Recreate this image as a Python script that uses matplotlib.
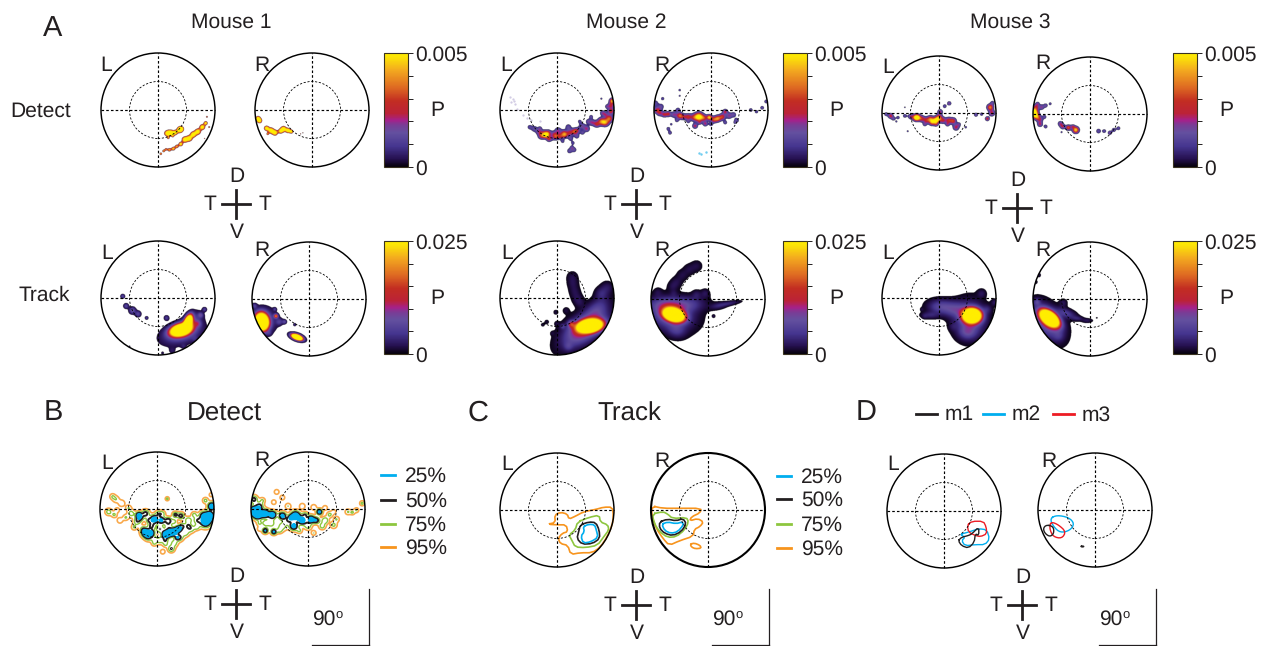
"""
Retinal maps for Detect and Track epochs, three mice, plus contour summaries.
Blob lists are (x, y, s, amp) or (x, y, sx, sy, angle, amp) on the unit disc.
"""
import numpy as np
import matplotlib
matplotlib.use("Agg")
import matplotlib.pyplot as plt
from matplotlib.cm import ScalarMappable
from matplotlib.colors import LinearSegmentedColormap, Normalize

plt.rcParams['font.family'] = ['Liberation Sans', 'DejaVu Sans']
plt.rcParams['text.hinting'] = 'none'
plt.rcParams['text.hinting_factor'] = 1

W, H = 1269, 646
INK = '#231f20'
FS = 15.2

# Detect maps, one list per eye
m1_det_l = [(.16, -.41, .03, .9), (.22, -.40, .03, 1), (.30, -.40, .025, .9), (.38, -.35, .03, 1), (.41, -.33, .025, .9),
            (.18, -.49, .015, .6), (.26, -.46, .015, .5), (.05, -.77, .015, .7), (.10, -.72, .015, .7), (.14, -.69, .015, .6),
            (.20, -.70, .02, .7), (.27, -.68, .02, .8), (.33, -.64, .02, .7), (.40, -.60, .022, .9), (.47, -.52, .03, 1),
            (.55, -.50, .03, 1), (.62, -.43, .03, 1), (.70, -.38, .03, 1), (.78, -.30, .028, 1), (.84, -.23, .02, .9),
            (.86, -.12, .012, .6), (.90, -.30, .012, .6), (.82, -.50, .01, .5)]
m1_det_r = [(-.95, -.15, .025, 1), (-.92, -.19, .025, .9), (-.80, -.32, .025, 1), (-.72, -.36, .03, 1), (-.65, -.40, .028, 1),
            (-.55, -.37, .025, .9), (-.50, -.33, .028, 1), (-.42, -.36, .025, 1), (-.36, -.38, .02, .8), (-.78, -.42, .014, .6),
            (-.2, -.42, .01, .5), (-.16, -.40, .01, .5), (.0, -.42, .01, .5)]
m2_det_l = [(-.48, -.30, .025, .25), (-.40, -.33, .03, .3), (-.32, -.38, .03, .35), (-.24, -.42, .035, .5), (-.19, -.44, .03, .95),
            (-.15, -.40, .03, .4), (-.28, -.46, .03, .4), (-.12, -.50, .03, .35), (-.05, -.42, .03, .35), (.02, -.36, .03, .4),
            (-.02, -.47, .03, .55), (.06, -.46, .03, .5), (.12, -.40, .03, .4), (.14, -.44, .03, .6), (.22, -.40, .03, .45),
            (.20, -.30, .03, .3), (.30, -.38, .03, .6), (.36, -.36, .03, .4), (.44, -.28, .03, .35), (.52, -.33, .03, .45),
            (.35, -.46, .025, .3), (.24, -.50, .025, .3), (.45, -.40, .02, .3), (.30, -.70, .025, .3), (.22, -.72, .025, .3),
            (.26, -.66, .02, .3), (.28, -.58, .02, .25), (.62, -.22, .03, .4), (.70, -.25, .03, .5), (.78, -.20, .035, .7),
            (.85, -.22, .035, .75), (.92, -.15, .035, .7), (.95, -.02, .03, .6), (.97, .16, .025, .9), (.95, .08, .03, .5),
            (.80, -.05, .025, .35), (.88, .06, .02, .3), (.78, .2, .012, .25), (.6, -.12, .02, .3), (-.15, -.52, .02, .25),
            (-.3, -.32, .02, .25), (.1, -.55, .02, .25), (.4, -.2, .02, .25), (.55, -.2, .025, .3), (.85, -.08, .025, .35)]
m2_det_r = [(-.98, .12, .03, .3), (-.95, .0, .03, .5), (-.88, .06, .03, .3), (-.90, -.05, .03, .45), (-.82, -.08, .025, .5),
            (-.75, -.07, .025, .55), (-.65, -.08, .03, .4), (-.55, -.10, .03, .7), (-.58, .0, .025, .3), (-.48, -.12, .03, .4),
            (-.40, -.12, .03, .55), (-.30, -.13, .035, .5), (-.21, -.12, .04, 1.2), (-.12, -.14, .03, .5), (-.03, -.13, .025, .95),
            (.05, -.17, .03, .6), (.12, -.15, .03, .75), (.2, -.12, .03, .6), (.25, -.03, .025, .5), (.32, -.10, .03, .4),
            (.40, -.08, .025, .3), (.45, -.18, .025, .3), (-.28, -.28, .025, .5), (-.10, -.24, .025, .45), (-.20, -.22, .02, .3),
            (-.75, -.33, .02, .3), (-.72, -.40, .02, .3), (-.7, -.25, .015, .25), (-.55, .35, .015, .25), (-.55, .25, .012, .25),
            (.70, .0, .02, .3), (.80, -.03, .02, .25), (.9, .04, .02, .3), (.97, .15, .02, .3), (-.85, .2, .02, .25),
            (-.6, -.18, .02, .3), (-.4, -.2, .02, .25), (.0, -.25, .02, .3), (.25, -.22, .02, .3), (.42, -.22, .015, .25)]
m3_det_l = [(-.93, -.02, .02, .3), (-.85, -.05, .025, .55), (-.80, -.10, .02, .3), (-.72, -.08, .02, .25), (-.6, -.05, .02, .3),
            (-.50, -.06, .025, .4), (-.42, -.08, .03, .6), (-.38, -.08, .03, 1.1), (-.3, -.10, .03, .5), (-.22, -.13, .03, .5),
            (-.15, -.1, .03, .6), (-.12, -.16, .03, .8), (-.05, -.13, .03, 1.1), (.0, -.08, .03, .75), (.02, .02, .025, .45),
            (.1, .12, .02, .3), (.18, .17, .02, .4), (.07, -.13, .03, .5), (.17, -.13, .03, .55), (.25, -.14, .03, .6),
            (.3, -.25, .03, .5), (.35, -.2, .02, .3), (.47, -.25, .015, .25), (.65, -.03, .02, .35), (.75, -.02, .02, .25),
            (.85, -.1, .02, .6), (.90, .1, .03, .8), (.93, .0, .03, .5), (.94, .18, .02, .3), (-.55, -.32, .012, .25),
            (-.75, -.15, .012, .25), (-.6, .1, .012, .2), (-.25, -.2, .02, .3), (-.05, -.2, .02, .35), (.15, -.2, .02, .35)]
m3_det_r = [(-.98, .05, .03, .7), (-.98, .0, .035, 1.2), (-.95, .12, .03, .5), (-.85, .12, .025, .4), (-.78, .15, .02, .35),
            (-.7, .18, .015, .3), (-.93, -.05, .03, .6), (-.88, -.1, .03, .4), (-.88, -.18, .025, .45), (-.8, -.05, .02, .3),
            (-.78, -.22, .02, .3), (-.52, -.17, .025, .4), (-.48, -.22, .025, .45), (-.38, -.24, .025, .7), (-.25, -.28, .03, 1.0),
            (-.3, -.22, .02, .4), (.15, -.30, .025, .3), (.25, -.30, .02, .3), (.35, -.33, .02, .4), (.42, -.28, .02, .35),
            (.5, -.25, .02, .3), (-.5, -.32, .012, .25), (-.92, .18, .02, .3)]

# Faint stray samples in mouse 2 (pale, outside the colour scale)
m2_det_l_faint_x = [-.82, -.78, -.76, -.80, -.74, -.70, -.60, -.52, -.45, -.3]
m2_det_l_faint_y = [.22, .2, .16, .14, .1, .02, -.08, -.14, -.17, -.2]
m2_det_r_cyan_x = [-.21, -.17, -.08]
m2_det_r_cyan_y = [-.75, -.77, -.74]

# Track maps
m1_trk_l = [(.40, -.56, .11, .06, 15, 3), (.53, -.42, .04, .08, -20, 2.4), (.42, -.62, .24, .12, 15, .3), (.60, -.42, .14, .09, 50, .22),
            (-.62, .03, .025, .25), (-.56, -.14, .03, .25), (-.45, -.22, .04, .3), (-.35, -.28, .035, .25), (-.2, -.35, .02, .2),
            (.75, -.30, .03, .25), (.82, -.2, .025, .2), (.7, -.45, .04, .2), (.15, -.35, .03, .2),
            (.08, -.97, .03, .06), (.25, -.93, .04, .08), (.45, -.85, .03, .08), (.65, -.72, .04, .08), (-.5, -.85, .015, .08)]
m1_trk_r = [(-.83, -.40, .07, .09, 10, 3), (-.80, -.38, .15, .15, 0, .25), (-.58, -.30, .025, .7), (-.52, -.40, .04, .2),
            (-.43, -.40, .025, .25), (-.96, -.12, .03, .2), (-.21, -.67, .06, .027, -20, 3), (-.21, -.67, .09, .045, -20, .25),
            (-.25, -.45, .02, .15), (-.6, -.18, .02, .18), (-.7, -.6, .03, .1)]
m2_trk_l = [(.58, -.49, .13, .065, 8, 3), (.55, -.48, .25, .14, 25, .3), (.40, -.62, .25, .13, 35, .28), (.70, -.20, .17, .10, 45, .2),
            (.27, .37, .065, .06), (.28, .25, .065, .06), (.31, .12, .065, .06), (.35, .0, .065, .06), (.40, -.08, .06, .06),
            (.88, .18, .07, .09), (.78, .08, .07, .12), (.25, -.46, .04, .4), (.1, -.5, .03, .15), (.0, -.45, .03, .05),
            (-.02, -.25, .03, .05), (-.18, -.42, .03, .04), (-.25, -.47, .025, .04), (-.08, -.62, .025, .04), (.16, -.22, .04, .05),
            (.2, -.85, .05, .12)]
m2_trk_r = [(-.60, -.28, .11, .065, -15, 3), (-.65, -.28, .25, .17, -10, .33), (-.72, -.10, .2, .08, 0, .22), (-.35, -.10, .2, .09, 5, .18),
            (-.2, .58, .065, .06), (-.33, .52, .065, .06), (-.45, .42, .065, .06), (-.55, .3, .065, .06), (-.62, .22, .06, .06),
            (.36, -.08, .13, .025, 10, .12), (.18, -.12, .1, .04, 10, .1), (-.88, .12, .05, .05), (-.6, .1, .04, .05),
            (-.2, .08, .05, .08), (-.05, .1, .05, .08), (.1, -.3, .02, .06), (-.55, -.55, .1, .08, -15, .15)]
m3_trk_l = [(.58, -.31, .095, .075, 0, 3), (.55, -.38, .17, .2, 0, .3), (.02, -.15, .14, .08, 0, .24), (.28, -.2, .14, .09, 0, .24),
            (-.15, -.30, .10, .04, 0, .12), (.5, -.6, .1, .08, 0, .2), (.75, .08, .05, .08), (.98, -.08, .04, .09), (-.3, -.2, .02, .05),
            (-.25, -.32, .03, .05), (.25, -.5, .05, .06), (.85, -.2, .05, .1)]
m3_trk_r = [(-.71, -.34, .115, .065, -38, 3), (-.75, -.40, .22, .14, -55, .36), (-.93, -.05, .04, .2), (-.55, -.65, .06, .1),
            (-.96, .3, .025, .06), (-.90, .42, .025, .06), (-.47, -.07, .045, .08), (-.42, -.25, .12, .05, -20, .2),
            (-.22, -.34, .07, .025, -5, .1), (-.05, -.38, .06, .025, 0, .08), (.12, -.33, .03, .02)]

# Pooled Detect field for panel B (contoured)
det_pool_l = [(-.78, .22, .03, .28), (-.72, .17, .035, .28), (-.62, .1, .035, .28), (-.5, .02, .03, .28), (-.85, -.05, .035, .4),
              (-.75, -.1, .03, .32), (-.65, -.2, .03, .28), (-.55, -.15, .03, .3), (-.45, -.08, .04, .38), (-.35, -.22, .04, .4),
              (-.3, -.15, .04, .55), (-.2, -.08, .04, .6), (-.25, -.35, .035, .3), (-.1, -.3, .04, .5), (-.15, -.5, .04, .4),
              (-.05, -.6, .03, .3), (.05, -.55, .04, .4), (.15, -.62, .03, .3), (.25, -.7, .035, .5), (.1, -.75, .025, .28),
              (.3, -.6, .04, .4), (.4, -.5, .04, .45), (.5, -.42, .04, .4), (.6, -.35, .04, .4), (.7, -.2, .04, .4),
              (.8, -.1, .04, .4), (.85, .15, .03, .35), (.95, .25, .02, .3), (.03, -.08, .035, .4), (.18, .18, .02, .35),
              (.85, -.22, .06, .95), (.92, -.12, .05, .9), (.96, .05, .04, .9), (-.05, -.18, .045, .85), (.08, -.2, .04, .7),
              (-.2, -.42, .045, .9), (-.1, -.42, .035, .7), (.15, -.45, .04, .85), (.3, -.4, .04, .85), (.38, -.35, .035, .75),
              (.2, -.2, .035, .6), (.42, -.12, .035, .6), (.32, -.1, .03, .55), (-.32, -.1, .03, .55), (.22, -.42, .04, .7),
              (.55, -.2, .035, .5), (.05, -.35, .04, .5), (.45, -.3, .035, .45), (.65, -.1, .03, .35), (.2, -.3, .04, .4),
              (-.4, -.32, .03, .3), (-.05, -.52, .03, .35), (.15, -.55, .03, .35), (.35, -.5, .03, .35), (.55, -.3, .03, .4),
              (.7, -.32, .03, .35), (-.15, -.2, .03, .35), (.1, -.08, .03, .3), (.3, -.22, .03, .35), (-.7, -.02, .025, .28)]
det_pool_r = [(-.95, -.03, .05, .9), (-.88, -.1, .05, .9), (-.75, -.08, .045, .85), (-.62, -.1, .04, .85), (-.45, -.12, .04, .8),
              (-.22, -.12, .05, .95), (-.1, -.2, .045, .85), (.05, -.18, .04, .85), (.2, -.05, .03, .8), (-.75, -.38, .03, .7),
              (-.6, -.4, .03, .7), (-.25, -.3, .045, .8), (.15, -.2, .035, .6), (-.95, .17, .04, .6), (-.85, .05, .04, .55),
              (-.55, .3, .025, .3), (-.45, .2, .025, .3), (-.8, .15, .03, .3), (-.6, .12, .025, .28), (-.35, .05, .03, .3),
              (-.65, -.25, .05, .4), (-.45, -.3, .05, .4), (-.35, -.2, .04, .4), (-.15, -.38, .03, .3), (.0, -.3, .04, .4),
              (.1, -.42, .025, .3), (.25, -.3, .035, .4), (.38, -.1, .03, .35), (.45, -.28, .035, .35), (.3, -.2, .035, .5),
              (.5, -.18, .03, .3), (.7, -.05, .03, .3), (.78, -.06, .025, .3), (.85, -.02, .025, .3), (.95, .1, .025, .35),
              (-.1, .05, .03, .28), (.1, .03, .03, .28), (.3, .02, .025, .28), (-.85, -.25, .03, .3), (-.75, -.25, .03, .35),
              (-.5, -.38, .03, .3), (-.3, -.15, .03, .4), (-.05, -.1, .03, .4), (.45, -.05, .025, .25), (-.85, -.35, .025, .25)]

# Pooled Track contours for panel C
trk_l_95_x = [-.16, -.03, -.04, .06, .18, .21, .32, .47, .68, .82, .97, .99, .97, .88, .76, .62, .41, .24, .19, .06, .02, .09, .19, .16, 0, -.16]
trk_l_95_y = [-.25, -.22, -.09, -.04, -.07, -.16, -.11, -.03, .01, .05, .05, -.09, -.26, -.47, -.65, -.75, -.75, -.78, -.62, -.59, -.50, -.41, -.38, -.26, -.26, -.25]
trk_l_75_x = [.36, .56, .74, .76, .89, .91, .82, .71, .50, .32, .26, .21, .32, .36]
trk_l_75_y = [-.21, -.13, -.09, -.21, -.26, -.35, -.47, -.62, -.66, -.65, -.53, -.44, -.35, -.21]
trk_l_50_x = [.41, .56, .68, .74, .75, .62, .44, .35, .38, .41]
trk_l_50_y = [-.26, -.21, -.22, -.35, -.50, -.59, -.60, -.50, -.38, -.26]
trk_l_25_x = [.46, .56, .66, .69, .72, .59, .46, .42, .48, .46]
trk_l_25_y = [-.29, -.25, -.26, -.35, -.48, -.56, -.58, -.46, -.38, -.29]
trk_r_95_x = [-.98, -.79, -.50, -.12, -.14, -.29, -.32, -.18, -.08, -.14, -.24, -.26, -.50, -.68, -.79, -.91, -.99, -.98]
trk_r_95_y = [.07, .03, .03, .03, -.05, -.12, -.19, -.15, -.21, -.29, -.34, -.46, -.54, -.62, -.50, -.32, -.09, .07]
trk_r_95b_x = [-.31, -.24, -.14, -.12, -.22, -.29, -.31]
trk_r_95b_y = [-.60, -.58, -.62, -.67, -.68, -.65, -.60]
trk_r_75_x = [-.98, -.79, -.71, -.62, -.38, -.34, -.41, -.56, -.71, -.85, -.94, -.98]
trk_r_75_y = [-.07, -.03, -.07, -.15, -.13, -.21, -.35, -.47, -.48, -.38, -.24, -.07]
trk_r_50_x = [-.85, -.71, -.56, -.44, -.38, -.47, -.62, -.76, -.85, -.85]
trk_r_50_y = [-.21, -.16, -.19, -.15, -.24, -.38, -.45, -.41, -.32, -.21]
trk_r_25_x = [-.81, -.71, -.56, -.45, -.43, -.53, -.65, -.76, -.81]
trk_r_25_y = [-.25, -.21, -.24, -.21, -.26, -.38, -.41, -.36, -.25]

# Per mouse 50% contours for panel D
d_l_m1_x = [.25, .31, .43, .49, .61, .61, .55, .53, .43, .31, .25]
d_l_m1_y = [-.52, -.46, -.43, -.40, -.28, -.43, -.40, -.55, -.65, -.61, -.52]
d_l_m2_x = [.28, .43, .61, .75, .80, .72, .55, .37, .31, .37, .28]
d_l_m2_y = [-.41, -.37, -.31, -.33, -.49, -.59, -.59, -.61, -.52, -.46, -.41]
d_l_m3_x = [.41, .49, .69, .74, .75, .64, .55, .43, .41]
d_l_m3_y = [-.25, -.18, -.18, -.28, -.40, -.45, -.43, -.37, -.25]
d_r_m1_x = [-.85, -.73, -.72, -.79, -.88, -.91, -.85]
d_r_m1_y = [-.26, -.29, -.41, -.47, -.41, -.32, -.26]
d_r_m1b_x = [-.25, -.22, -.19, -.22, -.25]
d_r_m1b_y = [-.64, -.63, -.64, -.65, -.64]
d_r_m2_x = [-.79, -.67, -.46, -.36, -.44, -.61, -.73, -.79]
d_r_m2_y = [-.15, -.09, -.13, -.24, -.36, -.40, -.29, -.15]
d_r_m3_x = [-.79, -.76, -.64, -.51, -.58, -.73, -.79, -.79]
d_r_m3_y = [-.26, -.21, -.26, -.38, -.50, -.47, -.35, -.26]

pct_labels = ['25%', '50%', '75%', '95%']
pct_colors = ['#00aeef', '#231f20', '#8dc63f', '#f7941d']
mouse_labels = ['m1', 'm2', 'm3']
mouse_colors = ['#231f20', '#00aeef', '#ed1c24']

cmap = LinearSegmentedColormap.from_list('retina', [
    (0, '#050008'), (.07, '#25104f'), (.18, '#45358f'), (.3, '#63509f'), (.37, '#7b3b95'), (.41, '#a5218a'),
    (.47, '#bb2238'), (.58, '#c22d22'), (.7, '#de6a22'), (.85, '#f3a91f'), (.95, '#fbdd0a'), (1, '#ffee00')])

fig = plt.figure(figsize=(W / 100, H / 100), dpi=100)
bg = fig.add_axes([0, 0, 1, 1])
bg.set_xlim(0, W)
bg.set_ylim(H, 0)
bg.axis('off')

gx, gy = np.meshgrid(np.linspace(-1, 1, 460), np.linspace(-1, 1, 460))


def label(x, y, s, size=FS, ha='center'):
    # +1 puts the glyph centres on the same row as the reference
    bg.text(x, y + 1, s, fontsize=size, color=INK, ha=ha, va='center')


def field(blobs, grow=1.0, gain=1.0):
    z = np.zeros_like(gx)
    for b in blobs:
        if len(b) == 4:
            x, y, sx, amp = b
            sy, ang = sx, 0
        else:
            x, y, sx, sy, ang, amp = b
        a = np.deg2rad(ang)
        u = (gx - x) * np.cos(a) + (gy - y) * np.sin(a)
        v = -(gx - x) * np.sin(a) + (gy - y) * np.cos(a)
        z += amp * np.exp(-.5 * ((u / (sx * grow)) ** 2 + (v / (sy * grow)) ** 2))
    return z * gain


def smooth(xs, ys, rounds=2):
    # corner cutting so the closed outlines do not look polygonal
    pts = np.column_stack([xs, ys])
    if np.allclose(pts[0], pts[-1]):
        pts = pts[:-1]
    for _ in range(rounds):
        nxt = np.roll(pts, -1, axis=0)
        pts = np.column_stack([.75 * pts + .25 * nxt, .25 * pts + .75 * nxt]).reshape(-1, 2)
    pts = np.vstack([pts, pts[:1]])
    return pts[:, 0], pts[:, 1]


def disc(cx, cy, name, lab_xy, r=57, lw=1.05):
    pad = 1.04
    ax = fig.add_axes([(cx - r * pad) / W, 1 - (cy + r * pad) / H, 2 * r * pad / W, 2 * r * pad / H])
    ax.set_xlim(-pad, pad)
    ax.set_ylim(-pad, pad)
    ax.axis('off')
    ax.patch.set_alpha(0)
    ax.plot([-1, 1], [0, 0], color='k', lw=.85, ls=(0, (2.2, 1.8)), zorder=5)
    ax.plot([0, 0], [-1, 1], color='k', lw=.85, ls=(0, (2.2, 1.8)), zorder=5)
    ax.add_patch(plt.Circle((0, 0), .5, fill=False, ec='k', lw=.6, ls=(0, (2.6, 2)), zorder=5))
    ax.add_patch(plt.Circle((0, 0), 1, fill=False, ec='k', lw=lw, zorder=6))
    label(lab_xy[0], lab_xy[1], name)
    return ax


def heat(ax, blobs, thresh, grow=1.0, gain=1.0):
    z = field(blobs, grow, gain)
    im = ax.imshow(np.ma.masked_less(z, thresh), cmap=cmap, vmin=0, vmax=1, origin='lower',
                   extent=[-1, 1, -1, 1], aspect='auto', zorder=2)
    im.set_clip_path(plt.Circle((0, 0), 1, transform=ax.transData))
    ax.set_xlim(-1.04, 1.04)
    ax.set_ylim(-1.04, 1.04)


def pool(ax, blobs):
    z = field(blobs, grow=1.2)
    clip = plt.Circle((0, 0), 1, transform=ax.transData)
    fill = ax.contourf(gx, gy, z, levels=[.7, 50], colors=[pct_colors[0]], zorder=2)
    fill.set_clip_path(clip)
    lines = ax.contour(gx, gy, z, levels=[.12, .3, .52, .7],
                       colors=['#f9a94b', pct_colors[2], pct_colors[1], pct_colors[0]],
                       linewidths=[1.2, 1, 1.4, .9], zorder=3)
    lines.set_clip_path(clip)


def cbar(x0, y0, x1, y1, vmax, top_label):
    cax = fig.add_axes([x0 / W, 1 - y1 / H, (x1 - x0) / W, (y1 - y0) / H])
    cb = fig.colorbar(ScalarMappable(Normalize(0, vmax), cmap), cax=cax, ticks=np.linspace(0, vmax, 6))
    cb.ax.set_yticklabels(['0', '', '', '', '', top_label], fontsize=FS, color=INK)
    cb.ax.tick_params(length=3.5, width=.7, pad=2, color=INK)
    cb.outline.set_linewidth(.8)
    cb.outline.set_edgecolor('#3a3320')
    label(x1 + 29, (y0 + y1) / 2, 'P')


def compass(cx, cy):
    bg.plot([cx - 14, cx + 14], [cy, cy], color=INK, lw=2)
    bg.plot([cx, cx], [cy - 14, cy + 14], color=INK, lw=2)
    for s, dx, dy in [('D', 1, -28), ('V', 1, 28), ('T', -26, 0), ('T', 29, 0)]:
        label(cx + dx, cy + dy, s)


def scale(x1, y0, y1):
    bg.plot([x1, x1], [y0, y1], color=INK, lw=.9)
    bg.plot([x1 - 57, x1], [y1, y1], color=INK, lw=.9)
    label(x1 - 57, y0 + 29, '90', ha='left')
    label(x1 - 34, y0 + 25, 'o', size=9, ha='left')


def pct_legend(x, ys):
    for s, c, y in zip(pct_labels, pct_colors, ys):
        bg.plot([x, x + 14], [y, y], color=c, lw=2)
        label(x + 24, y, s, ha='left')


# Panel A heat maps
det_panels = [(158, 110, 106, 65, m1_det_l, .45, 1.25, 1.2), (312, 110, 262, 65, m1_det_r, .45, 1.25, 1.2),
              (557, 110, 506, 65, m2_det_l, .13, 1.25, .95), (711, 110, 662, 65, m2_det_r, .13, 1.25, .95),
              (939, 113, 888, 67, m3_det_l, .13, 1.25, .95), (1090, 114, 1043, 63, m3_det_r, .13, 1.25, .95)]
trk_panels = [(158, 298, 107, 253, m1_trk_l, .05, 1, 1), (309, 299, 262, 250, m1_trk_r, .05, 1, 1),
              (557, 298, 507, 253, m2_trk_l, .018, 1, 1), (708, 299, 662, 250, m2_trk_r, .018, 1, 1),
              (939, 298, 888, 253, m3_trk_l, .018, 1, 1), (1090, 299, 1043, 250, m3_trk_r, .018, 1, 1)]
for i, (cx, cy, lx, ly, blobs, th, grow, gain) in enumerate(det_panels + trk_panels):
    ax = disc(cx, cy, 'L' if i % 2 == 0 else 'R', (lx, ly))
    heat(ax, blobs, th, grow, gain)
    if blobs is m2_det_r:
        ax.plot(m2_det_r_cyan_x, m2_det_r_cyan_y, ls='none', marker='.', ms=1.5, color='#6fcdf0', zorder=3)
    if blobs is m2_det_l:
        ax.plot(m2_det_l_faint_x, m2_det_l_faint_y, ls='none', marker='.', ms=1.2, color='#cfc8e2', zorder=3)

for x0 in [384, 783, 1173]:
    cbar(x0, 53, x0 + 24, 167, .005, '0.005')
    cbar(x0, 241, x0 + 24, 354, .025, '0.025')

for c in [(236, 204), (636, 204), (1017, 208), (236, 604), (636, 605), (1022, 605)]:
    compass(*c)

# Panel B
ax = disc(157, 509, 'L', (107, 463))
pool(ax, det_pool_l)
ax = disc(308, 509, 'R', (262, 460))
pool(ax, det_pool_r)
pct_legend(381, [475, 500, 524, 547])
scale(369, 589, 645)

# Panel C
ax = disc(557, 510, 'L', (507, 464))
for xs, ys, c in [(trk_l_95_x, trk_l_95_y, 3), (trk_l_75_x, trk_l_75_y, 2), (trk_l_50_x, trk_l_50_y, 1), (trk_l_25_x, trk_l_25_y, 0)]:
    ax.plot(*smooth(xs, ys, 1), color=pct_colors[c], lw=1.2, zorder=3)
ax = disc(708, 510, 'R', (662, 461), lw=1.5)
for xs, ys, c in [(trk_r_95_x, trk_r_95_y, 3), (trk_r_95b_x, trk_r_95b_y, 3), (trk_r_75_x, trk_r_75_y, 2),
                  (trk_r_50_x, trk_r_50_y, 1), (trk_r_25_x, trk_r_25_y, 0)]:
    ax.plot(*smooth(xs, ys, 1), color=pct_colors[c], lw=1.2, zorder=3)
pct_legend(777, [476, 499, 524, 548])
scale(769, 589, 645)

# Panel D
ax = disc(944, 511, 'L', (893, 464))
for xs, ys, c in [(d_l_m2_x, d_l_m2_y, 1), (d_l_m3_x, d_l_m3_y, 2), (d_l_m1_x, d_l_m1_y, 0)]:
    ax.plot(*smooth(xs, ys, 1), color=mouse_colors[c], lw=1, zorder=3)
ax = disc(1095, 510, 'R', (1049, 461))
for xs, ys, c in [(d_r_m2_x, d_r_m2_y, 1), (d_r_m3_x, d_r_m3_y, 2), (d_r_m1_x, d_r_m1_y, 0), (d_r_m1b_x, d_r_m1b_y, 0)]:
    ax.plot(*smooth(xs, ys, 2), color=mouse_colors[c], lw=1, zorder=3)
for s, c, x in zip(mouse_labels, mouse_colors, [916, 983, 1053]):
    bg.plot([x, x + 21], [414, 414], color=c, lw=2)
    label(x + 29, 414, s, ha='left')
scale(1156, 589, 645)

# Titles and panel letters
for s, x in zip(['Mouse 1', 'Mouse 2', 'Mouse 3'], [231, 626, 1010]):
    label(x, 21, s)
label(41, 110, 'Detect')
label(44, 294, 'Track')
label(224, 413, 'Detect', size=18.5)
label(629, 413, 'Track', size=18.5)
for s, x, y in [('A', 53, 27), ('B', 53, 412), ('C', 478, 412), ('D', 866, 412)]:
    label(x, y, s, size=21)

fig.savefig('out.png', dpi=100, facecolor='white')
